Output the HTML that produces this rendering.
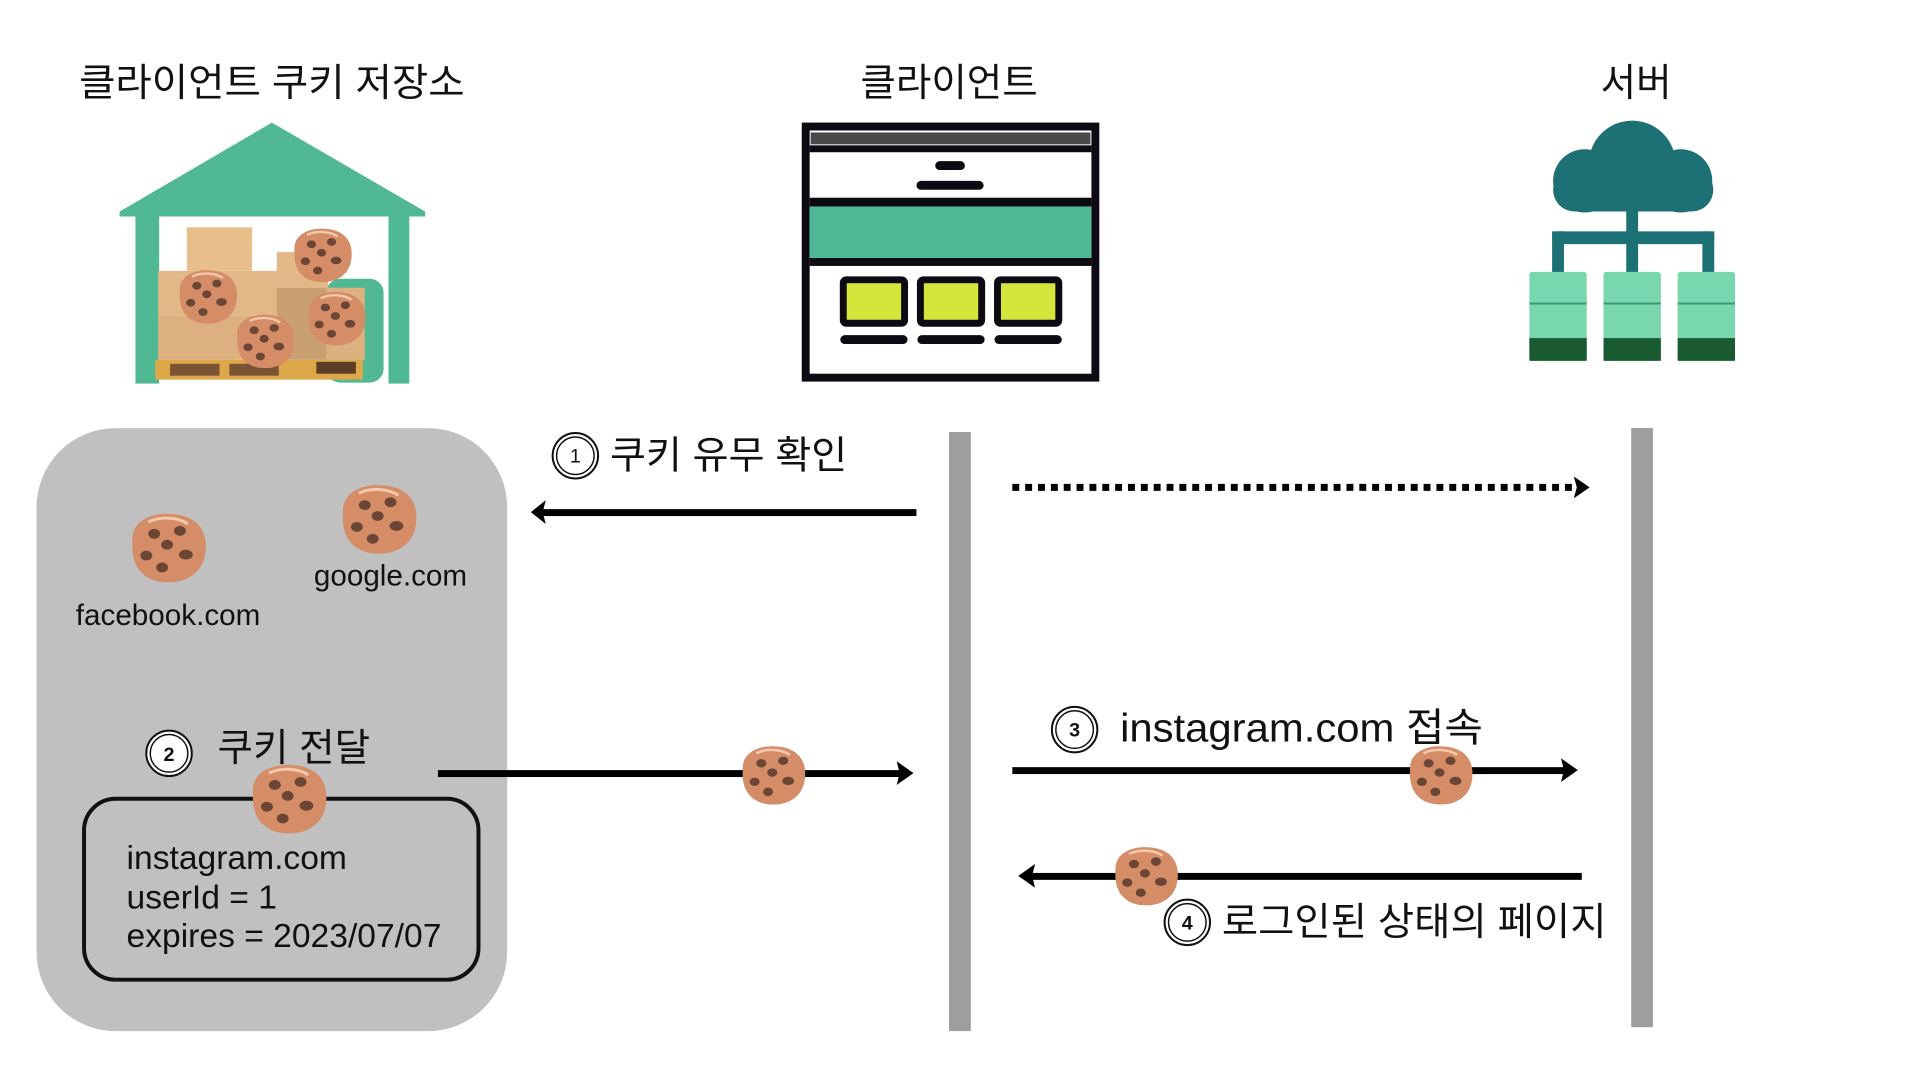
<!DOCTYPE html>
<html><head><meta charset="utf-8"><style>
html,body{margin:0;padding:0;background:#fff;}
svg{display:block}
text{font-family:"Liberation Sans","Noto Sans CJK KR",sans-serif;fill:#111;}
</style></head><body>
<svg width="1920" height="1080" viewBox="0 0 1920 1080" xmlns="http://www.w3.org/2000/svg">
<defs>
<g id="ck">
<path d="M-36,-6 C-38,-28 -14,-36 4,-34 C26,-33 40,-20 38,2 C37,24 20,36 -2,35 C-26,34 -38,18 -36,-6 Z" fill="#d48d66"/>
<path d="M-20,-26 C-8,-32 10,-31 20,-24" stroke="#f3c9ae" stroke-width="3" fill="none"/>
<ellipse cx="-14" cy="-14" rx="6" ry="5" fill="#6b4636"/>
<ellipse cx="12" cy="-17" rx="6" ry="5" fill="#6b4636"/>
<ellipse cx="-1" cy="-3" rx="6" ry="5" fill="#6b4636"/>
<ellipse cx="-22" cy="8" rx="6" ry="5" fill="#6b4636"/>
<ellipse cx="18" cy="7" rx="7" ry="5" fill="#6b4636"/>
<ellipse cx="-6" cy="20" rx="6" ry="5" fill="#6b4636"/>
</g>
<g id="num"><circle r="23" fill="#fff" stroke="#111" stroke-width="2"/><circle r="19" fill="none" stroke="#111" stroke-width="1.5"/></g>
</defs>
<g transform="scale(0.9886)">
<!-- titles -->
<text x="275" y="97" font-size="39" text-anchor="middle" textLength="390" lengthAdjust="spacingAndGlyphs">클라이언트 쿠키 저장소</text>
<text x="960" y="97" font-size="39" text-anchor="middle">클라이언트</text>
<text x="1655" y="97" font-size="39" text-anchor="middle">서버</text>

<!-- warehouse -->
<polygon points="275,124 430,214 430,219 121,219 121,214" fill="#50b994"/>
<rect x="137" y="214" width="24" height="174" fill="#50b994"/>
<rect x="393" y="214" width="21" height="174" fill="#50b994"/>
<rect x="330" y="282" width="58" height="105" rx="14" fill="#50b994"/>
<rect x="189" y="230" width="66" height="44" fill="#e8be8a"/>
<rect x="160" y="274" width="123" height="45" fill="#e2b887"/>
<rect x="160" y="319" width="123" height="45" fill="#ddb17f"/>
<rect x="280" y="255" width="52" height="36" fill="#e2b887"/>
<rect x="280" y="291" width="52" height="73" fill="#c9a071"/>
<rect x="330" y="291" width="39" height="73" fill="#dcb17f"/>
<rect x="157" y="364" width="210" height="20" fill="#dca84a"/>
<rect x="172" y="368" width="50" height="12" fill="#7b5436"/>
<rect x="232" y="368" width="50" height="12" fill="#7b5436"/>
<rect x="320" y="366" width="40" height="12" fill="#5c3d28"/>
<use href="#ck" transform="translate(210,300) scale(0.78)"/>
<use href="#ck" transform="translate(326,258) scale(0.78)"/>
<use href="#ck" transform="translate(268,345) scale(0.78)"/>
<use href="#ck" transform="translate(340,322) scale(0.78)"/>

<!-- browser -->
<rect x="815" y="128" width="293" height="254" fill="#fff" stroke="#0d0a14" stroke-width="8"/>
<rect x="820" y="134" width="283" height="12" fill="#4a4a4a"/>
<rect x="819" y="147" width="285" height="7" fill="#0d0a14"/>
<rect x="819" y="200" width="285" height="9" fill="#0d0a14"/>
<rect x="819" y="209" width="285" height="52" fill="#50b994"/>
<rect x="819" y="261" width="285" height="8" fill="#0d0a14"/>
<rect x="946" y="163" width="30" height="9" rx="4.5" fill="#0d0a14"/>
<rect x="927" y="183" width="68" height="9" rx="4.5" fill="#0d0a14"/>
<g fill="#d4e63c" stroke="#0d0a14" stroke-width="7">
<rect x="853" y="283" width="62" height="44" rx="3"/>
<rect x="931" y="283" width="62" height="44" rx="3"/>
<rect x="1009" y="283" width="62" height="44" rx="3"/>
</g>
<g fill="#0d0a14">
<rect x="850" y="339" width="68" height="9" rx="4.5"/>
<rect x="928" y="339" width="68" height="9" rx="4.5"/>
<rect x="1006" y="339" width="68" height="9" rx="4.5"/>
</g>

<!-- server -->
<g fill="#1d7175">
<circle cx="1651" cy="166" r="44"/>
<circle cx="1603" cy="183" r="32"/>
<circle cx="1700" cy="183" r="32"/>
<rect x="1571" y="170" width="162" height="44" rx="22"/>
<rect x="1645" y="205" width="12" height="75"/>
<rect x="1570" y="234" width="164" height="13" rx="5"/>
<rect x="1570" y="234" width="12" height="45"/>
<rect x="1722" y="234" width="12" height="45"/>
</g>
<g>
<rect x="1547" y="275" width="58" height="90" rx="3" fill="#78d7ae"/>
<rect x="1622" y="275" width="58" height="90" rx="3" fill="#78d7ae"/>
<rect x="1697" y="275" width="58" height="90" rx="3" fill="#78d7ae"/>
<g fill="#1a5a30"><rect x="1547" y="342" width="58" height="23"/><rect x="1622" y="342" width="58" height="23"/><rect x="1697" y="342" width="58" height="23"/></g>
<g fill="#3b9a74"><rect x="1547" y="306" width="58" height="2"/><rect x="1622" y="306" width="58" height="2"/><rect x="1697" y="306" width="58" height="2"/></g>
</g>

<!-- storage box -->
<rect x="37" y="433" width="476" height="610" rx="80" fill="#c0c0c0"/>
<use href="#ck" transform="translate(170,554)"/>
<use href="#ck" transform="translate(383,525)"/>
<text x="170" y="632" font-size="30" text-anchor="middle">facebook.com</text>
<text x="395" y="592" font-size="30" text-anchor="middle">google.com</text>
<use href="#num" transform="translate(171,762)"/>
<text x="171" y="770" font-size="20" font-weight="bold" text-anchor="middle">2</text>
<text x="220" y="770" font-size="39">쿠키 전달</text>
<rect x="85" y="808" width="399" height="183" rx="32" fill="none" stroke="#111" stroke-width="4"/>
<use href="#ck" transform="translate(292,808)"/>
<text x="128" y="879" font-size="34">instagram.com</text>
<text x="128" y="919" font-size="34">userId = 1</text>
<text x="128" y="958" font-size="34">expires = 2023/07/07</text>

<!-- lifelines -->
<rect x="960" y="437" width="22" height="606" fill="#9e9e9e"/>
<rect x="1650" y="433" width="22" height="606" fill="#9e9e9e"/>

<!-- arrow 1 -->
<use href="#num" transform="translate(582,461)"/>
<text x="582" y="468" font-size="20" text-anchor="middle">1</text>
<text x="617" y="474" font-size="39" textLength="240" lengthAdjust="spacingAndGlyphs">쿠키 유무 확인</text>
<rect x="545" y="515" width="382" height="7" fill="#000"/>
<polygon points="537,518 552,506 549,518 552,530" fill="#000"/>
<line x1="1024" y1="493" x2="1597" y2="493" stroke="#000" stroke-width="7" stroke-dasharray="7,6"/>
<polygon points="1608,493 1592,482 1595,493 1592,504" fill="#000"/>

<!-- arrow 2 -->
<rect x="443" y="779" width="472" height="7" fill="#000"/>
<polygon points="924,782 907,770 910,782 907,794" fill="#000"/>
<use href="#ck" transform="translate(782,784) scale(0.85)"/>

<!-- arrow 3 -->
<use href="#num" transform="translate(1087,738)"/>
<text x="1087" y="745" font-size="20" font-weight="bold" text-anchor="middle">3</text>
<text x="1133" y="750" font-size="40" textLength="367" lengthAdjust="spacingAndGlyphs">instagram.com 접속</text>
<rect x="1024" y="776" width="563" height="7" fill="#000"/>
<polygon points="1596,779 1579,767 1582,779 1579,791" fill="#000"/>
<use href="#ck" transform="translate(1457,784) scale(0.85)"/>

<!-- arrow 4 -->
<rect x="1040" y="883" width="560" height="7" fill="#000"/>
<polygon points="1030,886 1047,874 1044,886 1047,898" fill="#000"/>
<use href="#ck" transform="translate(1159,886) scale(0.85)"/>
<use href="#num" transform="translate(1201,933)"/>
<text x="1201" y="940" font-size="20" font-weight="bold" text-anchor="middle">4</text>
<text x="1236" y="946" font-size="39" textLength="389" lengthAdjust="spacingAndGlyphs">로그인된 상태의 페이지</text>
</g>
</svg>
</body></html>
